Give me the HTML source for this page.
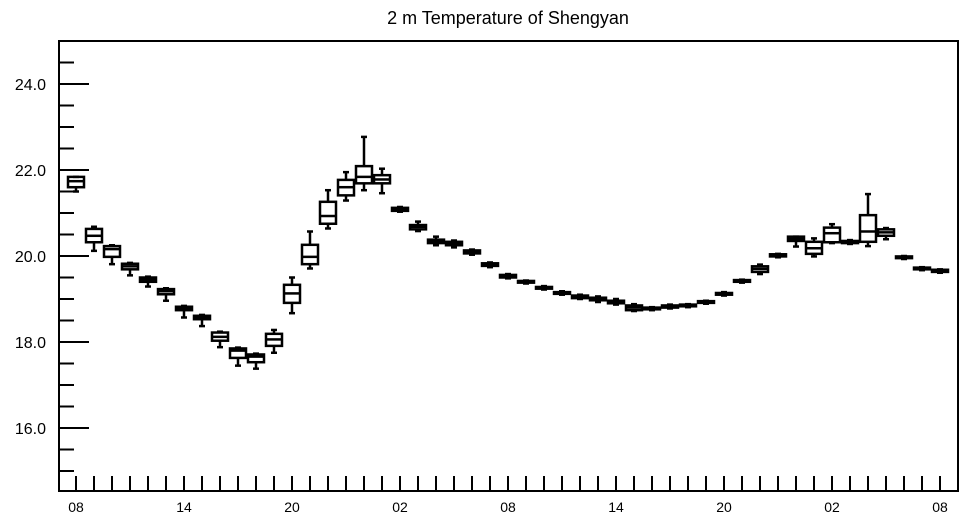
<!DOCTYPE html>
<html><head><meta charset="utf-8">
<style>
html,body{margin:0;padding:0;background:#fff;}
svg{display:block;font-family:"Liberation Sans",sans-serif;}
</style></head>
<body>
<svg id="chart" width="964" height="520" viewBox="0 0 964 520" xmlns="http://www.w3.org/2000/svg">
<text x="508" y="24" font-size="18" text-anchor="middle">2 m Temperature of Shengyan</text>
<rect x="59" y="41" width="899" height="450" fill="none" stroke="#000" stroke-width="2"/>
<g id="axes"></g>
<g id="boxes"></g>
</svg>
<script>
const hours = [];
for (let i = 0; i <= 48; i++) hours.push(i);
const xTickLabels = ["08","14","20","02","08","14","20","02","08"];
const yTickValues = [16,18,20,22,24];
const yTickLabels = ["16.0","18.0","20.0","22.0","24.0"];
const minVals = [21.5,20.12,19.81,19.55,19.29,18.96,18.57,18.37,17.88,17.45,17.38,17.75,18.67,19.71,20.64,21.29,21.53,21.46,21.03,20.58,20.25,20.2,20.03,19.74,19.48,19.36,19.22,19.1,19.0,18.93,18.87,18.72,18.74,18.78,18.81,18.89,19.08,19.38,19.58,19.97,20.22,19.99,20.3,20.28,20.23,20.39,19.93,19.67,19.61];
const q1Vals = [21.6,20.32,19.98,19.69,19.4,19.11,18.74,18.53,18.03,17.63,17.53,17.91,18.91,19.81,20.75,21.41,21.69,21.69,21.05,20.62,20.3,20.25,20.06,19.77,19.5,19.38,19.24,19.12,19.02,18.97,18.9,18.74,18.76,18.8,18.83,18.91,19.1,19.4,19.63,19.99,20.35,20.05,20.32,20.3,20.33,20.47,19.95,19.69,19.63];
const medVals = [21.74,20.47,20.16,19.76,19.45,19.18,18.78,18.57,18.12,17.8,17.66,18.06,19.13,19.98,20.93,21.6,21.84,21.78,21.09,20.68,20.35,20.3,20.1,19.8,19.53,19.4,19.26,19.14,19.05,19.0,18.93,18.8,18.78,18.82,18.85,18.93,19.12,19.42,19.7,20.02,20.4,20.18,20.53,20.33,20.57,20.55,19.97,19.71,19.66];
const q3Vals = [21.84,20.63,20.23,19.82,19.5,19.23,18.82,18.61,18.22,17.85,17.71,18.19,19.33,20.26,21.26,21.77,22.09,21.88,21.12,20.72,20.38,20.33,20.13,19.83,19.56,19.42,19.28,19.16,19.08,19.03,18.96,18.85,18.8,18.85,18.87,18.95,19.14,19.44,19.76,20.04,20.45,20.33,20.66,20.35,20.95,20.62,19.99,19.73,19.68];
const maxVals = [21.84,20.68,20.25,19.84,19.52,19.25,18.84,18.63,18.24,17.87,17.73,18.28,19.5,20.57,21.53,21.95,22.77,22.03,21.14,20.8,20.45,20.36,20.15,19.85,19.58,19.43,19.3,19.18,19.1,19.06,19.0,18.88,18.81,18.87,18.88,18.96,19.16,19.45,19.8,20.05,20.45,20.41,20.74,20.37,21.44,20.65,20.0,19.74,19.69];

const NS = "http://www.w3.org/2000/svg";
const xs = h => 76 + 18 * h;
const ys = v => 256 - (v - 20) * 43;
function mk(tag, attrs, parent) {
  const el = document.createElementNS(NS, tag);
  for (const k in attrs) el.setAttribute(k, attrs[k]);
  parent.appendChild(el);
  return el;
}
const axes = document.getElementById("axes");
// y ticks
for (let v = 14.5; v <= 25; v += 0.5) {
  const y = ys(v);
  if (y < 42 || y > 490) continue;
  const major = Math.abs(v - Math.round(v)) < 1e-6 && Math.round(v) % 2 === 0;
  const t = mk("line", {x1: 59, x2: major ? 89 : 74, y1: y, y2: y, stroke: "#000", "stroke-width": 2}, axes);
  
  
}
yTickValues.forEach((v, i) => {
  const t = mk("text", {x: 46, y: ys(v) + 6, "font-size": 16, "text-anchor": "end"}, axes);
  t.textContent = yTickLabels[i];
  
  
});
// x ticks
hours.forEach(h => {
  const t = mk("line", {x1: xs(h), x2: xs(h), y1: 476, y2: 491, stroke: "#000", "stroke-width": 2}, axes);
  
  
});
xTickLabels.forEach((lab, i) => {
  const t = mk("text", {x: xs(i * 6), y: 512, "font-size": 14, "text-anchor": "middle"}, axes);
  t.textContent = lab;
  
  
});
// boxes
const boxes = document.getElementById("boxes");
hours.forEach((h, i) => {
  const x = xs(h);
  const g = mk("g", {stroke: "#000", "stroke-width": 2.5, fill: "none"}, boxes);
  
  
  mk("line", {x1: x, x2: x, y1: ys(maxVals[i]), y2: ys(q3Vals[i])}, g);
  mk("line", {x1: x, x2: x, y1: ys(q1Vals[i]), y2: ys(minVals[i])}, g);
  mk("line", {x1: x - 3, x2: x + 3, y1: ys(maxVals[i]), y2: ys(maxVals[i])}, g);
  mk("line", {x1: x - 3, x2: x + 3, y1: ys(minVals[i]), y2: ys(minVals[i])}, g);
  const top = ys(q3Vals[i]), bot = ys(q1Vals[i]);
  mk("rect", {x: x - 8, y: top, width: 16, height: Math.max(bot - top, 1)}, g);
  mk("line", {x1: x - 8, x2: x + 8, y1: ys(medVals[i]), y2: ys(medVals[i])}, g);
});
</script>
</body></html>
